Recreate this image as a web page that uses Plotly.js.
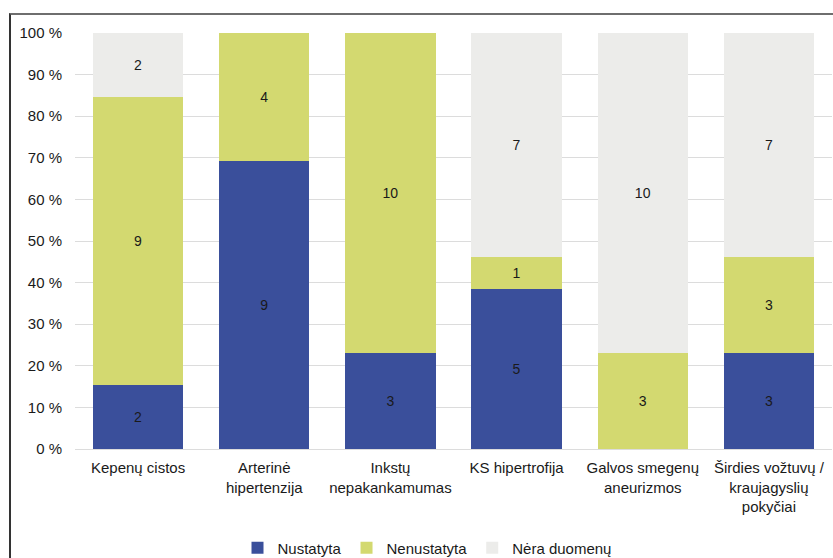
<!DOCTYPE html>
<html>
<head>
<meta charset="utf-8">
<script src="https://cdn.plot.ly/plotly-3.0.1.min.js"></script>
<style>
  html, body { margin: 0; padding: 0; background: #fff; }
  #wrap { position: relative; width: 833px; height: 558px; overflow: hidden; }
  #frame { position: absolute; left: 9px; top: 13px; right: -4px; bottom: -4px;
           border-top: 2px solid #6e6e6e; border-left: 2px solid #333; pointer-events: none; }
  #chart { position: absolute; left: 0; top: 0; width: 833px; height: 558px; }
</style>
</head>
<body>
<div id="wrap">
  <div id="chart"></div>
  <div id="frame"></div>
</div>
<script>
// Categories (x axis)
const categories = [
  "Kepenų cistos",
  "Arterinė<br>hipertenzija",
  "Inkstų<br>nepakankamumas",
  "KS hipertrofija",
  "Galvos smegenų<br>aneurizmos",
  "Širdies vožtuvų /<br>kraujagyslių<br>pokyčiai"
];

// Counts per category for each series
const nustatyta   = [2, 9, 3, 5, 0, 3];
const nenustatyta = [9, 4, 10, 1, 3, 3];
const neraDuomenu = [2, 0, 0, 7, 10, 7];

const seriesNames = ["Nustatyta", "Nenustatyta", "Nėra duomenų"];
const seriesColors = ["#3a4f9b", "#d3d970", "#ececea"];

const FAMILY = "Liberation Sans, Arial, sans-serif";
const valueFont = { family: FAMILY, size: 14, color: "#1a1a1a" };
const axisFont  = { family: FAMILY, size: 15, color: "#1a1a1a" };

function makeTrace(values, i) {
  return {
    type: "bar",
    name: seriesNames[i],
    x: categories,
    y: values,
    text: values.map(v => v ? String(v) : ""),
    textposition: "inside",
    insidetextanchor: "middle",
    textangle: 0,
    textfont: valueFont,
    constraintext: "none",
    marker: { color: seriesColors[i], line: { width: 0 } },
    hoverinfo: "skip"
  };
}

const data = [nustatyta, nenustatyta, neraDuomenu].map(makeTrace);

const layout = {
  width: 833,
  height: 558,
  margin: { l: 75, r: 1, t: 33, b: 109, autoexpand: false },
  paper_bgcolor: "#ffffff",
  plot_bgcolor: "#ffffff",
  barmode: "stack",
  barnorm: "percent",
  bargap: 0.285,
  font: axisFont,
  showlegend: true,
  legend: {
    orientation: "h",
    x: 0.465, xanchor: "center",
    y: -0.238, yanchor: "middle",
    font: axisFont,
    itemwidth: 30,
    traceorder: "normal"
  },
  xaxis: {
    type: "category",
    showgrid: false,
    zeroline: false,
    showline: false,
    ticks: "",
    tickfont: axisFont,
    ticklabelstandoff: 8,
    automargin: false
  },
  yaxis: {
    range: [0, 100],
    dtick: 10,
    tick0: 0,
    ticksuffix: " %",
    showgrid: true,
    gridcolor: "#dcdcdc",
    gridwidth: 1,
    zeroline: true,
    zerolinecolor: "#dcdcdc",
    zerolinewidth: 1,
    showline: false,
    ticks: "",
    tickfont: axisFont,
    ticklabelstandoff: 12,
    automargin: false,
    fixedrange: true
  }
};

Plotly.newPlot("chart", data, layout, { displayModeBar: false, staticPlot: true });
</script>
</body>
</html>
